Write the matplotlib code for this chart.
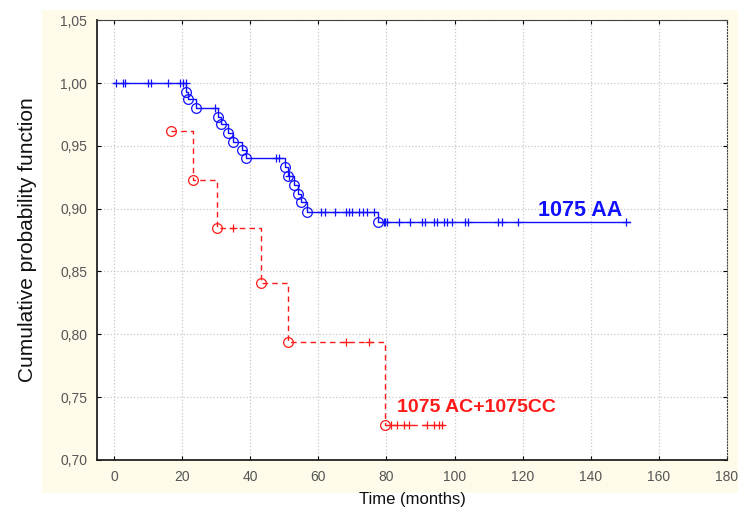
import numpy as np
import matplotlib
matplotlib.use("Agg")
import matplotlib.pyplot as plt
from matplotlib.patches import Rectangle
from matplotlib.ticker import FuncFormatter, MultipleLocator

plt.rcParams['font.family'] = ['Liberation Sans', 'DejaVu Sans']

# 1075 AA (blue): event times / survival after event, censored times
aa_event_t = [21.2, 21.8, 24.2, 30.5, 31.5, 33.5, 35.0, 37.5, 38.8,
              50.2, 51.0, 53.0, 54.0, 55.0, 56.8, 77.5]
aa_event_s = [0.993, 0.987, 0.980, 0.973, 0.967, 0.960, 0.953, 0.947, 0.940,
              0.933, 0.926, 0.919, 0.912, 0.905, 0.8975, 0.889]
aa_censor_t = [0.5, 2.5, 3.2, 10, 11, 16, 19.5, 20.3, 21.0,
               29.8, 47.5, 48.5, 51.5,
               60.7, 62, 65, 68, 69, 70, 72, 73, 74.4, 76.3,
               79.2, 79.7, 80.2, 83.6, 87, 90.4, 91.4, 93.9, 94.8, 96.8,
               97.8, 99.2, 103.1, 104.1, 112.9, 113.8, 118.7, 150.4]
aa_end = 151.4

# 1075 AC + 1075 CC (red)
ac_event_t = [16.6, 23.2, 30.2, 43.1, 51.2, 79.5]
ac_event_s = [0.962, 0.923, 0.885, 0.841, 0.794, 0.728]
ac_censor_t = [34.9, 68.2, 75.0, 81.2, 83.1, 85.1, 86.5, 91.9, 93.9, 95.3, 96.3]
ac_end = 97.0

blue = '#1010ff'
red = '#ff1a1a'

fig = plt.figure(figsize=(7.42, 5.12), dpi=100)
fig.patches.append(Rectangle((0.0566, 0.0371), 0.938, 0.943, transform=fig.transFigure,
                             facecolor='#fffbea', edgecolor='none', zorder=-10))
ax = fig.add_axes([0.1307, 0.1016, 0.849, 0.859])
ax.set_facecolor('white')


def surv_at(times, event_t, event_s, start):
    et = np.array(event_t)
    es = np.array(event_s)
    out = []
    for t in times:
        i = np.searchsorted(et, t, side='right')
        out.append(start if i == 0 else es[i - 1])
    return out


# blue curve
xb = [0] + aa_event_t + [aa_end]
yb = [1.0] + aa_event_s + [aa_event_s[-1]]
ax.step(xb, yb, where='post', color=blue, lw=1.0, zorder=3)
ax.plot(aa_event_t, aa_event_s, 'o', mfc='none', mec=blue, ms=7, mew=0.9, zorder=4)
ax.plot(aa_censor_t, surv_at(aa_censor_t, aa_event_t, aa_event_s, 1.0), '+',
        color=blue, ms=6, mew=0.9, zorder=4)

# red curve
xr = ac_event_t + [ac_end]
yr = ac_event_s + [ac_event_s[-1]]
ax.step(xr, yr, where='post', color=red, lw=1.0, linestyle=(0, (4, 3)), zorder=3)
ax.plot(ac_event_t, ac_event_s, 'o', mfc='none', mec=red, ms=7, mew=0.9, zorder=4)
ax.plot(ac_censor_t, surv_at(ac_censor_t, ac_event_t, ac_event_s, 1.0), '+',
        color=red, ms=6, mew=0.9, zorder=4)

ax.text(124.5, 0.8985, '1075 AA', color=blue, fontsize=15.5, fontweight='bold',
        ha='left', va='center')
ax.text(83, 0.7415, '1075 AC+1075CC', color=red, fontsize=14, fontweight='bold',
        ha='left', va='center')

ax.set_xlim(-5, 180)
ax.set_ylim(0.70, 1.05)
ax.xaxis.set_major_locator(MultipleLocator(20))
ax.yaxis.set_major_locator(MultipleLocator(0.05))
ax.yaxis.set_major_formatter(FuncFormatter(lambda v, p: f'{v:.2f}'.replace('.', ',')))
ax.tick_params(direction='in', length=3, top=True, right=True, labelsize=10,
               labelcolor='#555555', pad=7)
ax.grid(True, color='#c8c8c8', linestyle=':', lw=0.9)
ax.set_axisbelow(True)

for s in ['left', 'bottom']:
    ax.spines[s].set_linewidth(1.3)
    ax.spines[s].set_color('#222222')
ax.spines['top'].set_color('#444444')
ax.spines['right'].set_color('#444444')
ax.spines['right'].set_linestyle(':')

ax.set_xlabel('Time (months)', fontsize=12, color='#111111', labelpad=6)
ax.set_ylabel('Cumulative probability function', fontsize=15, color='#111111', labelpad=17)

fig.savefig('out.png', dpi=100)
